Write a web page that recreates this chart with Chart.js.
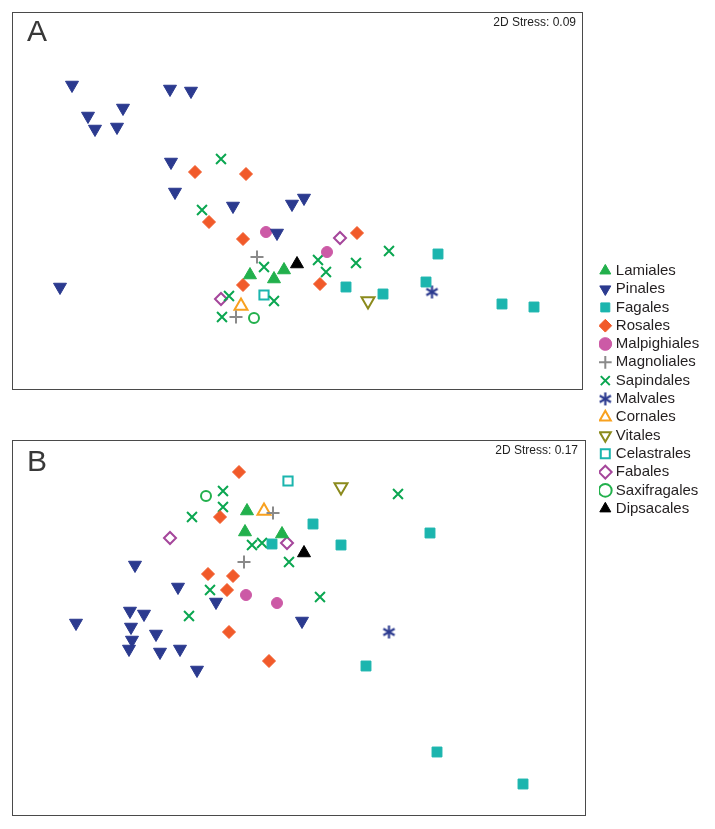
<!DOCTYPE html>
<html><head><meta charset="utf-8">
<script src="https://cdn.jsdelivr.net/npm/chart.js@4/dist/chart.umd.min.js"></script>
<style>
html,body{margin:0;padding:0;background:#fff;width:715px;height:829px;overflow:hidden;font-family:'Liberation Sans',Arial,sans-serif;}
.panel{position:absolute;border:1px solid #4a4a4a;}
.panel canvas{display:block;}
.lbl{position:absolute;font-size:30px;line-height:30px;color:#383838;}
.stress{position:absolute;font-size:12px;line-height:12px;color:#222;white-space:nowrap;}
#legWrap{position:absolute;left:599px;top:260px;}
</style></head><body>
<div class="panel" id="pA" style="left:12px;top:12px;"><canvas id="cA" width="569" height="376"></canvas></div>
<div class="panel" id="pB" style="left:12px;top:440px;"><canvas id="cB" width="572" height="374"></canvas></div>
<div class="lbl" style="left:27px;top:16px;">A</div>
<div class="lbl" style="left:27px;top:446px;">B</div>
<div class="stress" style="right:139px;top:16px;">2D Stress: 0.09</div>
<div class="stress" style="right:137px;top:444px;">2D Stress: 0.17</div>
<div id="legWrap"><canvas id="cL" width="240" height="262"></canvas></div>
<script>
// ---- Data (NMDS ordination coordinates, arbitrary units) ----
const orders = ['Lamiales','Pinales','Fagales','Rosales','Malpighiales','Magnoliales','Sapindales','Malvales','Cornales','Vitales','Celastrales','Fabales','Saxifragales','Dipsacales'];

// Panel A (stress 0.09)
const aLamiales = [[237,114],[271,119],[261,110]];
const aPinales = [[59,304],[157,300],[178,298],[75,273],[110,281],[82,260],[104,262],[158,227],[162,197],[220,183],[279,185],[291,191],[264,156],[47,102]];
const aFagales = [[425,135],[333,102],[370,95],[413,107],[489,85],[521,82]];
const aRosales = [[182,217],[233,215],[196,167],[230,150],[230,104],[344,156],[307,105]];
const aMalpighiales = [[253,157],[314,137]];
const aMagnoliales = [[244,132],[223,72]];
const aSapindales = [[208,230],[189,179],[251,122],[216,93],[261,88],[209,72],[305,129],[313,117],[343,126],[376,138]];
const aMalvales = [[419,97]];
const aCornales = [[228,83]];
const aVitales = [[355,88]];
const aCelastrales = [[251,94]];
const aFabales = [[208,90],[327,151]];
const aSaxifragales = [[241,71]];
const aDipsacales = [[284,125]];

// Panel B (stress 0.17)
const bLamiales = [[234,304],[232,283],[269,281]];
const bPinales = [[122,250],[165,228],[203,213],[117,204],[131,201],[63,192],[118,188],[143,181],[119,175],[116,166],[147,163],[167,166],[184,145],[289,194]];
const bFagales = [[300,291],[417,282],[328,270],[259,271],[353,149],[424,63],[510,31]];
const bRosales = [[226,343],[207,298],[195,241],[220,239],[214,225],[216,183],[256,154]];
const bMalpighiales = [[233,220],[264,212]];
const bMagnoliales = [[260,302],[231,253]];
const bSapindales = [[210,324],[210,308],[179,298],[239,270],[249,272],[276,253],[197,225],[176,199],[385,321],[307,218]];
const bMalvales = [[376,183]];
const bCornales = [[251,304]];
const bVitales = [[328,328]];
const bCelastrales = [[275,334]];
const bFabales = [[157,277],[274,272]];
const bSaxifragales = [[193,319]];
const bDipsacales = [[291,262]];

const panelA = [aLamiales,aPinales,aFagales,aRosales,aMalpighiales,aMagnoliales,aSapindales,aMalvales,aCornales,aVitales,aCelastrales,aFabales,aSaxifragales,aDipsacales];
const panelB = [bLamiales,bPinales,bFagales,bRosales,bMalpighiales,bMagnoliales,bSapindales,bMalvales,bCornales,bVitales,bCelastrales,bFabales,bSaxifragales,bDipsacales];

// ---- Styles ----
function asterisk(color){
  const c=document.createElement('canvas'); c.width=15; c.height=15;
  const g=c.getContext('2d'); g.strokeStyle=color; g.lineWidth=2.2; g.lineCap='butt';
  const cx=7.5, cy=7.5, r=6.5;
  [90,30,150].forEach(a=>{const t=a*Math.PI/180; g.beginPath(); g.moveTo(cx-Math.cos(t)*r,cy-Math.sin(t)*r); g.lineTo(cx+Math.cos(t)*r,cy+Math.sin(t)*r); g.stroke();});
  return c;
}
const styles = {
  Lamiales:     {ps:'triangle', rot:0,   fill:'#22b04c', stroke:'#22b04c', r:7.5, bw:1},
  Pinales:      {ps:'triangle', rot:180, fill:'#2b3a8f', stroke:'#2b3a8f', r:7.5, bw:1},
  Fagales:      {ps:'rect',     rot:0,   fill:'#1bb5ae', stroke:'#1bb5ae', r:7,   bw:1},
  Rosales:      {ps:'rectRot',  rot:0,   fill:'#f15a2a', stroke:'#f15a2a', r:6.5, bw:1},
  Malpighiales: {ps:'circle',   rot:0,   fill:'#cc5aa6', stroke:'#cc5aa6', r:5.5, bw:1},
  Magnoliales:  {ps:'cross',    rot:0,   fill:'#8a8a8a', stroke:'#8a8a8a', r:6.5, bw:2},
  Sapindales:   {ps:'crossRot', rot:0,   fill:'#0aa650', stroke:'#0aa650', r:7,   bw:2},
  Malvales:     {ps:asterisk('#2b3a8f'), rot:0, fill:'#2b3a8f', stroke:'#2b3a8f', r:7, bw:1},
  Cornales:     {ps:'triangle', rot:0,   fill:'rgba(0,0,0,0)', stroke:'#f8a11f', r:7.5, bw:2},
  Vitales:      {ps:'triangle', rot:180, fill:'rgba(0,0,0,0)', stroke:'#8b8a1c', r:7.5, bw:2},
  Celastrales:  {ps:'rect',     rot:0,   fill:'rgba(0,0,0,0)', stroke:'#1bb5ae', r:6.5, bw:2},
  Fabales:      {ps:'rectRot',  rot:0,   fill:'rgba(0,0,0,0)', stroke:'#a5469b', r:6,   bw:2},
  Saxifragales: {ps:'circle',   rot:0,   fill:'rgba(0,0,0,0)', stroke:'#22b04c', r:5,   bw:2},
  Dipsacales:   {ps:'triangle', rot:0,   fill:'#000000', stroke:'#000000', r:7.5, bw:1}
};

function makeDatasets(panel){
  return orders.map((name,i)=>{
    const s=styles[name];
    return {
      label:name,
      data: panel ? panel[i].map(p=>({x:p[0],y:p[1]})) : [],
      pointStyle:s.ps, pointRotation:s.rot,
      backgroundColor:s.fill, borderColor:s.stroke, borderWidth:s.bw,
      pointRadius:s.r, pointHoverRadius:s.r, pointBorderWidth:s.bw
    };
  });
}

function panelChart(id, panel, w, h){
  return new Chart(document.getElementById(id), {
    type:'scatter',
    data:{datasets:makeDatasets(panel)},
    options:{
      responsive:false, animation:false, events:[],
      layout:{padding:0, autoPadding:false},
      plugins:{legend:{display:false}, tooltip:{enabled:false}},
      scales:{
        x:{type:'linear', display:false, min:0, max:w},
        y:{type:'linear', display:false, min:0, max:h}
      }
    }
  });
}
panelChart('cA', panelA, 569, 376);
panelChart('cB', panelB, 572, 374);

// Legend chart
new Chart(document.getElementById('cL'), {
  type:'scatter',
  data:{datasets:makeDatasets(null)},
  options:{
    responsive:false, animation:false, events:[],
    layout:{padding:0, autoPadding:false},
    scales:{x:{display:false},y:{display:false}},
    plugins:{
      tooltip:{enabled:false},
      legend:{
        display:true, position:'left', align:'start',
        labels:{
          usePointStyle:true, boxWidth:6, boxHeight:9, padding:3.3,
          color:'#231f20',
          font:{family:"'Liberation Sans', Arial, sans-serif", size:15}
        }
      }
    }
  }
});
</script>
</body></html>
